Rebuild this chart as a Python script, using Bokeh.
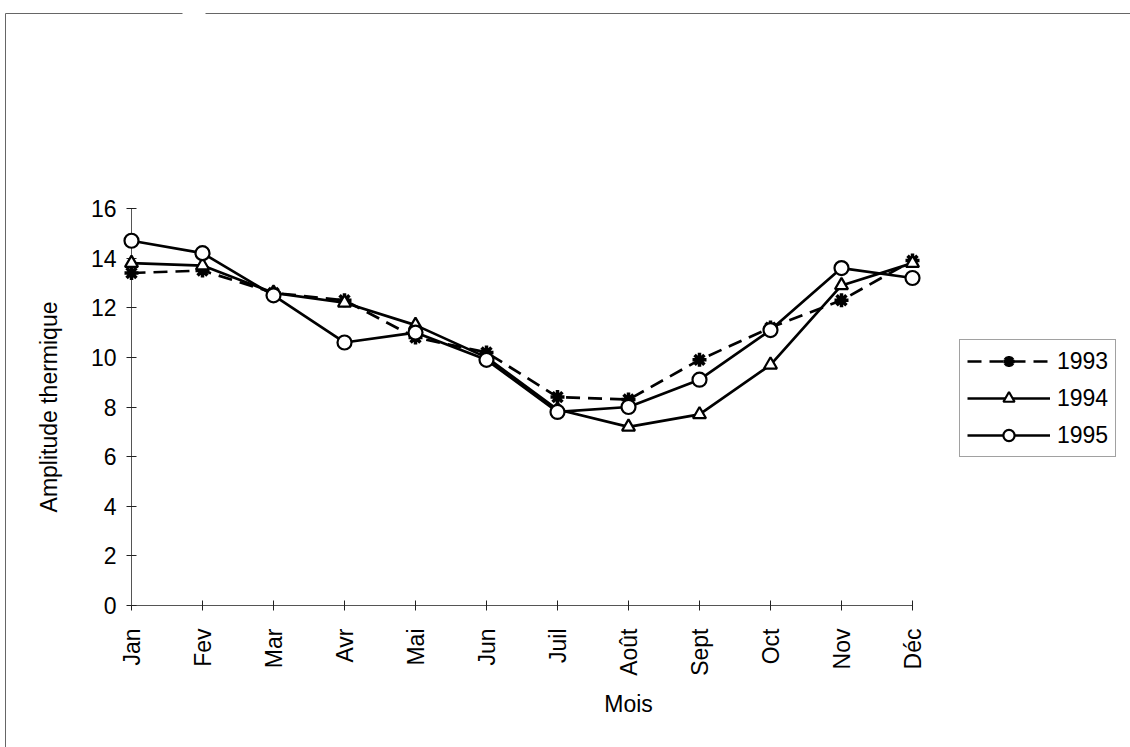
import math
from bokeh.plotting import figure
from bokeh.models import Range1d, FixedTicker, Legend, LegendItem
from bokeh.embed import file_html
from bokeh.resources import INLINE

# Monthly thermal amplitude by year
months = ["Jan", "Fev", "Mar", "Avr", "Mai", "Jun", "Juil", "Août", "Sept", "Oct", "Nov", "Déc"]
a1993 = [13.4, 13.5, 12.6, 12.3, 10.8, 10.2, 8.4, 8.3, 9.9, 11.2, 12.3, 13.9]
a1994 = [13.8, 13.7, 12.6, 12.2, 11.3, 10.0, 7.9, 7.2, 7.7, 9.7, 12.9, 13.8]
a1995 = [14.7, 14.2, 12.5, 10.6, 11.0, 9.9, 7.8, 8.0, 9.1, 11.1, 13.6, 13.2]
y_ticks = [0, 2, 4, 6, 8, 10, 12, 14, 16]

FONT = "Liberation Sans"
FS = "23px"

W, H = 1130, 747
# frame spans Jan..Déc plus room on the right for the legend;
# the x axis itself is bounded to the month positions
FL, FR, FT, FB = 131, 1125, 208, 605
X0, X1, Y0, Y1 = 0, 14, 0, 16

x = list(range(len(months)))

p = figure(width=W, height=H, output_backend="svg", toolbar_location=None,
           x_range=Range1d(X0, X1), y_range=Range1d(Y0, Y1),
           min_border_left=FL, min_border_right=W - FR,
           min_border_top=FT, min_border_bottom=H - FB)
p.outline_line_color = None
p.xgrid.visible = False
p.ygrid.visible = False
p.background_fill_color = "white"
p.border_fill_color = "white"

for ax in (p.xaxis[0], p.yaxis[0]):
    ax.axis_line_color = "#555555"
    ax.axis_line_width = 1
    ax.major_tick_line_color = "#222222"
    ax.major_tick_in = 5
    ax.major_tick_out = 5
    ax.minor_tick_line_color = None
    ax.major_label_text_font = FONT
    ax.major_label_text_font_size = FS
    ax.major_label_text_color = "black"
    ax.axis_label_text_font = FONT
    ax.axis_label_text_font_size = FS
    ax.axis_label_text_font_style = "normal"
    ax.axis_label_text_color = "black"

p.xaxis.ticker = FixedTicker(ticks=x)
p.xaxis.bounds = (x[0], x[-1])
p.xaxis.major_label_overrides = {i: m for i, m in enumerate(months)}
p.xaxis.major_label_orientation = math.pi / 2
p.xaxis.major_label_standoff = 18
p.xaxis.axis_label = "Mois"
p.xaxis.axis_label_standoff = 12

p.yaxis.ticker = FixedTicker(ticks=y_ticks)
p.yaxis.major_label_standoff = 10
p.yaxis.axis_label = "Amplitude thermique"
p.yaxis.axis_label_standoff = 26

# 1993: dashed line with asterisks
l93 = p.line(x, a1993, line_color="black", line_width=2.7, line_dash="14 8", level="overlay")
s93 = p.scatter(x, a1993, marker="asterisk", size=14, line_color="black", line_width=3.5, level="overlay")
# 1994: solid line with open triangles
l94 = p.line(x, a1994, line_color="black", line_width=2.7, level="overlay")
s94 = p.scatter(x, a1994, marker="triangle", size=13, line_color="black", line_width=2.2,
                fill_color="white", level="overlay")
# 1995: solid line with open circles
l95 = p.line(x, a1995, line_color="black", line_width=2.7, level="overlay")
s95 = p.scatter(x, a1995, marker="circle", size=14, line_color="black", line_width=2.2,
                fill_color="white", level="overlay")

legend = Legend(items=[
    LegendItem(label="1993", renderers=[l93, s93]),
    LegendItem(label="1994", renderers=[l94, s94]),
    LegendItem(label="1995", renderers=[l95, s95]),
], location=(959 - FL, FB - 457))
legend.label_text_font = FONT
legend.label_text_font_size = FS
legend.label_text_color = "black"
legend.glyph_width = 83
legend.glyph_height = 28
legend.label_height = 28
legend.label_standoff = 7
legend.spacing = 9
legend.padding = 7
legend.margin = 0
legend.border_line_color = "#444444"
legend.border_line_width = 1
legend.background_fill_color = "white"
p.add_layout(legend, "center")


# thin frame line along the top and left of the chart, placed in canvas pixels
def to_x(px):
    return X0 + (px - FL) * (X1 - X0) / (FR - FL)


def to_y(py):
    return Y0 + (FB - py) * (Y1 - Y0) / (FB - FT)


border_xs = [[to_x(5), to_x(182)], [to_x(205), to_x(W)], [to_x(5), to_x(5)]]
border_ys = [[to_y(13), to_y(13)], [to_y(13), to_y(13)], [to_y(13), to_y(H)]]
p.multi_line(border_xs, border_ys, line_color="#666666", line_width=1, level="overlay")

open("out.html", "w").write(file_html(p, INLINE))
